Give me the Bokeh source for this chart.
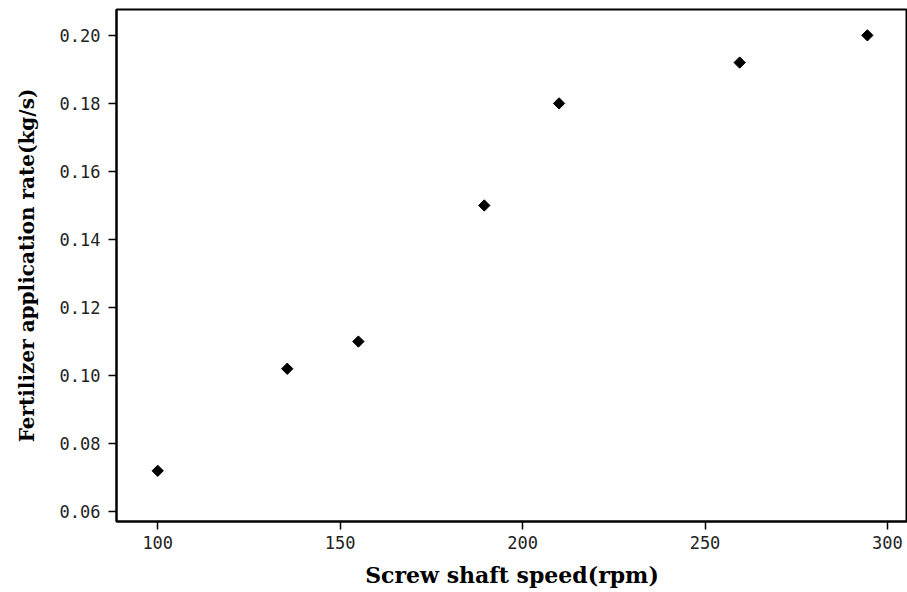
from bokeh.plotting import figure
from bokeh.models import ColumnDataSource, FixedTicker, CustomJSTickFormatter, Range1d
from bokeh.embed import file_html
from bokeh.resources import INLINE

speed_rpm = [100, 135.5, 155, 189.5, 210, 259.5, 294.5]
rate_kgs = [0.072, 0.102, 0.110, 0.150, 0.180, 0.192, 0.200]
x_ticks = [100, 150, 200, 250, 300]
y_ticks = [0.06, 0.08, 0.10, 0.12, 0.14, 0.16, 0.18, 0.20]
x_label = "Screw shaft speed(rpm)"
y_label = "Fertilizer application rate(kg/s)"

src = ColumnDataSource(data=dict(x=speed_rpm, y=rate_kgs))

p = figure(width=907, height=592, output_backend="svg", toolbar_location=None,
           x_range=Range1d(88.7, 305.5), y_range=Range1d(0.0571, 0.2076),
           min_border_left=116, min_border_top=9, min_border_right=0, min_border_bottom=71)

p.scatter("x", "y", source=src, marker="square", angle=0.785398, size=8, color="black")

p.grid.visible = False
p.outline_line_color = "black"
p.outline_line_width = 2
p.background_fill_color = "white"
p.border_fill_color = "white"

p.xaxis.ticker = FixedTicker(ticks=x_ticks)
p.yaxis.ticker = FixedTicker(ticks=y_ticks)
p.yaxis.formatter = CustomJSTickFormatter(code="return tick.toFixed(2);")

for ax in (p.xaxis[0], p.yaxis[0]):
    ax.axis_line_color = "black"
    ax.axis_line_width = 2
    ax.major_tick_line_color = "black"
    ax.major_tick_line_width = 1.5
    ax.major_tick_out = 8
    ax.major_tick_in = 0
    ax.minor_tick_line_color = None
    ax.major_label_text_font = "DejaVu Sans Mono"
    ax.major_label_text_font_size = "17px"
    ax.major_label_text_color = "#222222"
    ax.axis_label_text_font = "DejaVu Serif"
    ax.axis_label_text_font_style = "bold"
    ax.axis_label_text_color = "black"

p.xaxis.axis_label = x_label
p.yaxis.axis_label = y_label
p.xaxis.axis_label_text_font_size = "22px"
p.yaxis.axis_label_text_font_size = "20px"
p.xaxis.major_label_standoff = 6
p.xaxis.axis_label_standoff = 10
p.yaxis.major_label_standoff = 8
p.yaxis.axis_label_standoff = 18

open("out.html", "w").write(file_html(p, INLINE))
